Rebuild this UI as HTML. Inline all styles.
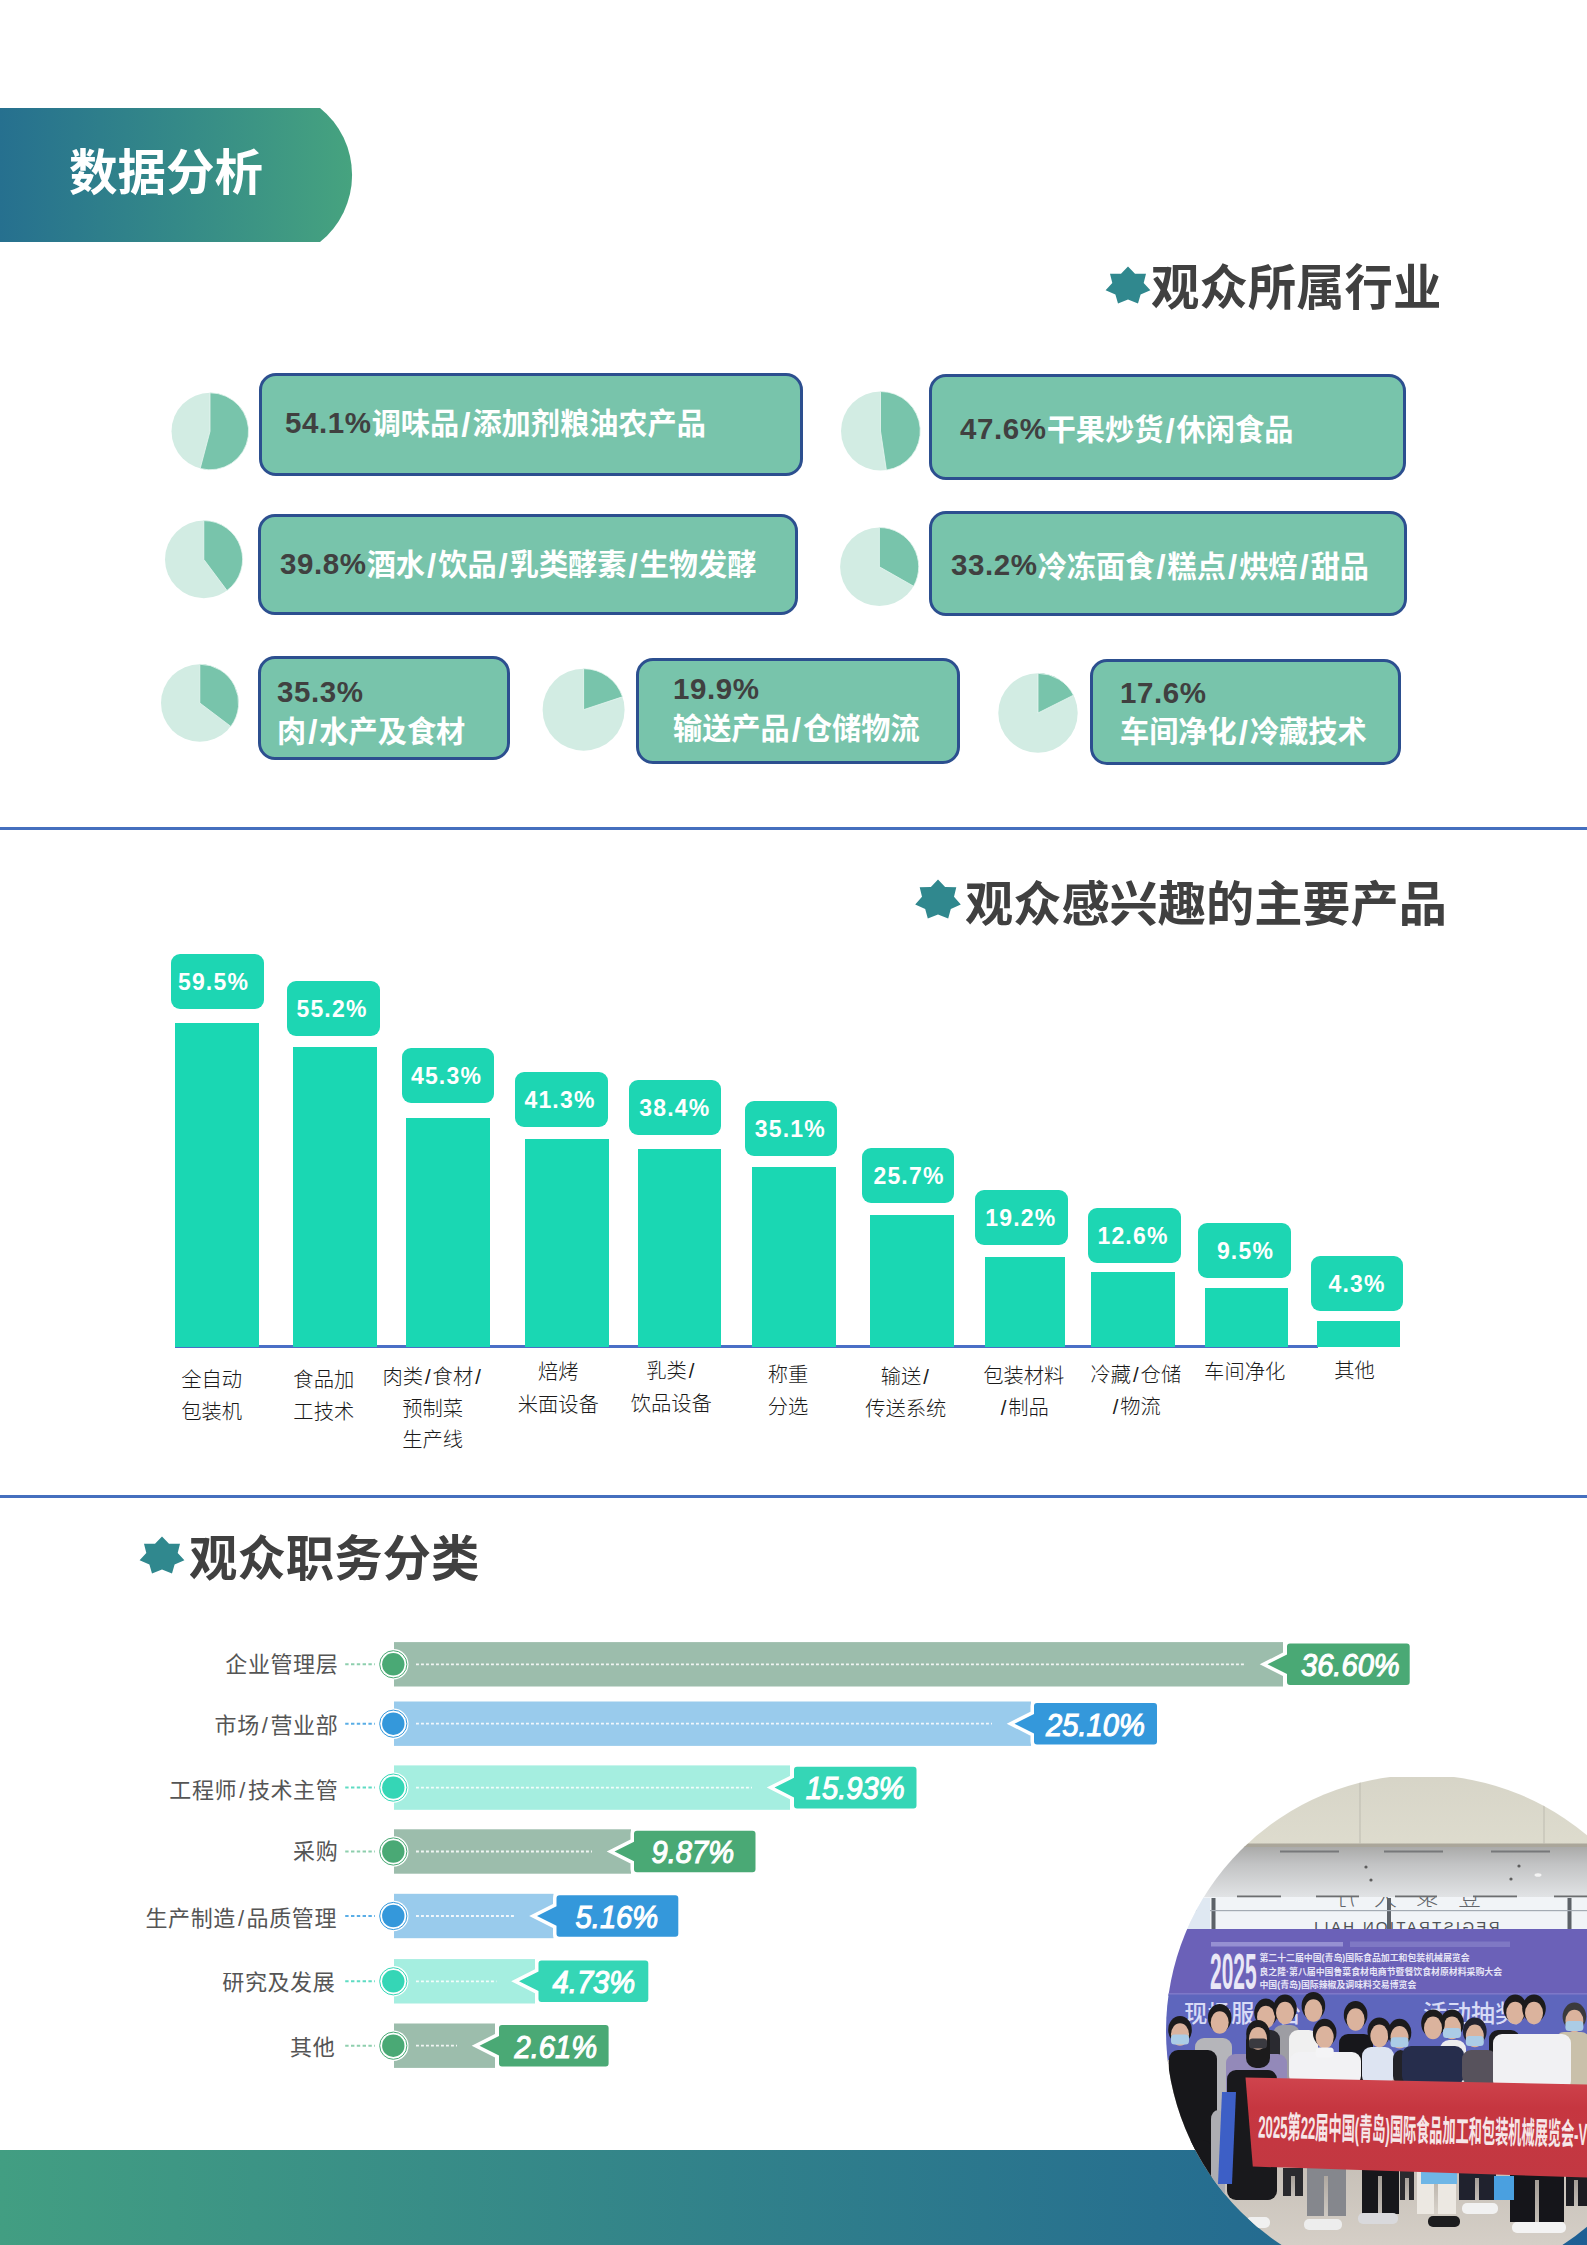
<!DOCTYPE html>
<html lang="zh-CN">
<head>
<meta charset="utf-8">
<title>数据分析</title>
<style>
html,body{margin:0;padding:0;background:#fff;}
body{width:1587px;height:2245px;position:relative;overflow:hidden;font-family:"Liberation Sans", "Noto Sans CJK SC", sans-serif;}
.a{position:absolute;white-space:nowrap;}
.ttl{font-weight:700;font-size:48.4px;line-height:60px;color:#404040;letter-spacing:0;}
.hdr{font-weight:700;font-size:48.5px;line-height:60px;color:#fff;}
.box{position:absolute;box-sizing:border-box;background:#78c4ab;border:3px solid #2c4f8f;border-radius:17px;}
.bt{position:absolute;white-space:nowrap;font-weight:700;font-size:29.2px;line-height:38px;color:#fff;}
.bt b{color:#404040;font-weight:700;font-size:29.5px;letter-spacing:0.6px;position:relative;top:-1.5px;}
.bt i{font-style:normal;padding:0 2px;font-size:33px;line-height:0;position:relative;top:1.5px;}
.bar{position:absolute;background:#1ad7b3;}
.lab{position:absolute;background:#1dd6b3;border-radius:9px;color:#fff;font-weight:700;font-size:23px;line-height:57px;text-align:center;letter-spacing:1.2px;}
.cat{position:absolute;white-space:nowrap;text-align:center;font-weight:300;font-size:20.3px;line-height:32px;color:#1a1a1a;transform:translateX(-50%);}
.cat i,.hl i{font-style:normal;padding:0 2px;}
.hl{position:absolute;white-space:nowrap;font-weight:400;font-size:22px;line-height:30px;color:#555;text-align:right;letter-spacing:0.6px;}
.hb{position:absolute;height:44px;}
.tg{position:absolute;white-space:nowrap;color:#fff;-webkit-text-stroke:1.1px #fff;font-style:italic;font-size:31px;line-height:41px;text-align:center;transform-origin:50% 50%;}
.line{position:absolute;left:0;width:1587px;height:3px;background:#456fbe;}
</style>
</head>
<body>
<svg class="a" style="left:0;top:108px" width="360" height="134" viewBox="0 0 360 134">
<defs><linearGradient id="hg" x1="0" y1="0" x2="1" y2="0"><stop offset="0" stop-color="#26708f"/><stop offset="0.5" stop-color="#348988"/><stop offset="1" stop-color="#46a37f"/></linearGradient></defs>
<path d="M0 0 H320 A86 86 0 0 1 320 134 H0 Z" fill="url(#hg)"/>
</svg>
<div class="a hdr" style="left:69px;top:142.8px">数据分析</div>
<div class="a" style="left:0;top:2150px;width:1587px;height:95px;background:linear-gradient(90deg,#429e82 0%,#1d5f94 100%)"></div>
<div class="line" style="top:827px"></div>
<div class="line" style="top:1495px"></div>
<svg class="a" style="left:1102.7px;top:260.7px" width="50" height="50" viewBox="0 0 50 50"><polygon points="25.0,5.5 32.0,12.7 43.0,12.8 40.7,22.0 47.4,29.3 37.6,33.5 35.0,42.6 25.0,38.6 15.0,42.6 12.4,33.5 2.6,29.3 9.3,22.0 7.0,12.8 18.0,12.7" fill="#30888e"/></svg>
<div class="a ttl" style="left:1151px;top:257.5px">观众所属行业</div>
<svg class="a" style="left:912.8px;top:875.2px" width="50" height="50" viewBox="0 0 50 50"><polygon points="25.0,4.5 32.1,12.1 43.3,12.2 41.0,21.8 47.8,29.6 37.8,33.9 35.2,43.5 25.0,39.4 14.8,43.5 12.2,33.9 2.2,29.6 9.0,21.8 6.7,12.2 17.9,12.1" fill="#30888e"/></svg>
<div class="a ttl" style="left:965px;top:873.8px;font-size:48.2px">观众感兴趣的主要产品</div>
<svg class="a" style="left:137.2px;top:1531.2px" width="50" height="50" viewBox="0 0 50 50"><polygon points="25.0,5.5 32.0,12.7 43.0,12.8 40.7,22.0 47.4,29.3 37.6,33.5 35.0,42.6 25.0,38.6 15.0,42.6 12.4,33.5 2.6,29.3 9.3,22.0 7.0,12.8 18.0,12.7" fill="#30888e"/></svg>
<div class="a ttl" style="left:189px;top:1528.8px">观众职务分类</div>
<svg class="a" style="left:0;top:340px" width="1587" height="460" viewBox="0 340 1587 460"><circle cx="210.0" cy="431.3" r="38.5" fill="#d2ece3"/><path d="M210.0 431.3 L210.0 392.8 A38.5 38.5 0 1 1 200.2 468.5 Z" fill="#78c4ab" stroke="#e8f6f1" stroke-width="0.8"/><circle cx="880.5" cy="431.0" r="39.5" fill="#d2ece3"/><path d="M880.5 431.0 L880.5 391.5 A39.5 39.5 0 0 1 886.4 470.1 Z" fill="#78c4ab" stroke="#e8f6f1" stroke-width="0.8"/><circle cx="203.8" cy="559.4" r="38.8" fill="#d2ece3"/><path d="M203.8 559.4 L203.8 520.6 A38.8 38.8 0 0 1 227.0 590.5 Z" fill="#78c4ab" stroke="#e8f6f1" stroke-width="0.8"/><circle cx="879.4" cy="566.8" r="39.3" fill="#d2ece3"/><path d="M879.4 566.8 L879.4 527.5 A39.3 39.3 0 0 1 913.6 586.2 Z" fill="#78c4ab" stroke="#e8f6f1" stroke-width="0.8"/><circle cx="199.8" cy="703.0" r="38.8" fill="#d2ece3"/><path d="M199.8 703.0 L199.8 664.2 A38.8 38.8 0 0 1 230.8 726.4 Z" fill="#78c4ab" stroke="#e8f6f1" stroke-width="0.8"/><circle cx="583.6" cy="709.7" r="41.0" fill="#d2ece3"/><path d="M583.6 709.7 L583.6 668.7 A41.0 41.0 0 0 1 622.5 696.8 Z" fill="#78c4ab" stroke="#e8f6f1" stroke-width="0.8"/><circle cx="1038.0" cy="713.0" r="39.7" fill="#d2ece3"/><path d="M1038.0 713.0 L1038.0 673.3 A39.7 39.7 0 0 1 1073.5 695.2 Z" fill="#78c4ab" stroke="#e8f6f1" stroke-width="0.8"/></svg>
<div class="box" style="left:259px;top:373px;width:544px;height:103px"></div>
<div class="bt" style="left:285px;top:405.0px"><b>54.1%</b>调味品<i>/</i>添加剂粮油农产品</div>
<div class="box" style="left:929px;top:374px;width:477px;height:106px"></div>
<div class="bt" style="left:960px;top:411.0px"><b>47.6%</b>干果炒货<i>/</i>休闲食品</div>
<div class="box" style="left:258px;top:514px;width:540px;height:101px"></div>
<div class="bt" style="left:280px;top:546.0px"><b>39.8%</b>酒水<i>/</i>饮品<i>/</i>乳类酵素<i>/</i>生物发酵</div>
<div class="box" style="left:929px;top:511px;width:478px;height:105px"></div>
<div class="bt" style="left:951px;top:547.5px"><b>33.2%</b>冷冻面食<i>/</i>糕点<i>/</i>烘焙<i>/</i>甜品</div>
<div class="box" style="left:258px;top:656px;width:252px;height:104px"></div>
<div class="bt" style="left:277px;top:674.0px"><b>35.3%</b></div>
<div class="bt" style="left:277px;top:712.5px">肉<i>/</i>水产及食材</div>
<div class="box" style="left:636px;top:658px;width:324px;height:106px"></div>
<div class="bt" style="left:673px;top:671.5px"><b>19.9%</b></div>
<div class="bt" style="left:673px;top:710.0px">输送产品<i>/</i>仓储物流</div>
<div class="box" style="left:1090px;top:659px;width:311px;height:106px"></div>
<div class="bt" style="left:1120px;top:675.0px"><b>17.6%</b></div>
<div class="bt" style="left:1120px;top:713.0px">车间净化<i>/</i>冷藏技术</div>
<div class="a" style="left:175px;top:1344.5px;width:1143px;height:3px;background:#4a6fc6"></div>
<div class="bar" style="left:175px;top:1023px;width:84px;height:324.4px"></div>
<div class="bar" style="left:293px;top:1047px;width:84px;height:300.4px"></div>
<div class="bar" style="left:406px;top:1118px;width:84px;height:229.4px"></div>
<div class="bar" style="left:525px;top:1139px;width:84px;height:208.4px"></div>
<div class="bar" style="left:638px;top:1149px;width:83px;height:198.4px"></div>
<div class="bar" style="left:752px;top:1167px;width:84px;height:180.4px"></div>
<div class="bar" style="left:870px;top:1215px;width:84px;height:132.4px"></div>
<div class="bar" style="left:985px;top:1257px;width:80px;height:90.4px"></div>
<div class="bar" style="left:1091px;top:1272px;width:84px;height:75.4px"></div>
<div class="bar" style="left:1205px;top:1288px;width:83px;height:59.4px"></div>
<div class="bar" style="left:1317px;top:1321px;width:83px;height:26.4px"></div>
<div class="lab" style="left:171px;top:954px;width:93px;height:55px"><span style="position:relative;left:-4px">59.5%</span></div>
<div class="lab" style="left:287px;top:981px;width:93px;height:55px"><span style="position:relative;left:-1.5px">55.2%</span></div>
<div class="lab" style="left:402px;top:1048px;width:92px;height:55px"><span style="position:relative;left:-1.5px">45.3%</span></div>
<div class="lab" style="left:515px;top:1072px;width:93px;height:55px"><span style="position:relative;left:-1.5px">41.3%</span></div>
<div class="lab" style="left:629px;top:1080px;width:92px;height:55px"><span style="position:relative;left:-0.2px">38.4%</span></div>
<div class="lab" style="left:745px;top:1101px;width:92px;height:55px"><span style="position:relative;left:-0.6px">35.1%</span></div>
<div class="lab" style="left:862px;top:1148px;width:92px;height:55px"><span style="position:relative;left:1px">25.7%</span></div>
<div class="lab" style="left:975px;top:1190px;width:93px;height:55px"><span style="position:relative;left:-0.6px">19.2%</span></div>
<div class="lab" style="left:1088px;top:1208px;width:93px;height:55px"><span style="position:relative;left:-1.5px">12.6%</span></div>
<div class="lab" style="left:1198px;top:1223px;width:93px;height:55px"><span style="position:relative;left:1px">9.5%</span></div>
<div class="lab" style="left:1311px;top:1256px;width:92px;height:55px"><span style="position:relative;left:0.1px">4.3%</span></div>
<div class="cat" style="left:211.7px;top:1364.2px">全自动</div>
<div class="cat" style="left:211.7px;top:1396.2px">包装机</div>
<div class="cat" style="left:323.8px;top:1364.2px">食品加</div>
<div class="cat" style="left:323.8px;top:1396.2px">工技术</div>
<div class="cat" style="left:432.6px;top:1361.2px">肉类<i>/</i>食材<i>/</i></div>
<div class="cat" style="left:432.6px;top:1393.2px">预制菜</div>
<div class="cat" style="left:432.6px;top:1424.2px">生产线</div>
<div class="cat" style="left:558.3px;top:1356.2px">焙烤</div>
<div class="cat" style="left:558.3px;top:1389.2px">米面设备</div>
<div class="cat" style="left:671.3px;top:1355.2px">乳类<i>/</i></div>
<div class="cat" style="left:671.3px;top:1388.2px">饮品设备</div>
<div class="cat" style="left:788.0px;top:1358.7px">称重</div>
<div class="cat" style="left:788.0px;top:1390.7px">分选</div>
<div class="cat" style="left:905.8px;top:1360.7px">输送<i>/</i></div>
<div class="cat" style="left:905.8px;top:1392.7px">传送系统</div>
<div class="cat" style="left:1023.8px;top:1359.7px">包装材料</div>
<div class="cat" style="left:1023.8px;top:1391.7px"><i>/</i>制品</div>
<div class="cat" style="left:1135.8px;top:1358.7px">冷藏<i>/</i>仓储</div>
<div class="cat" style="left:1135.8px;top:1390.7px"><i>/</i>物流</div>
<div class="cat" style="left:1244.7px;top:1356.2px">车间净化</div>
<div class="cat" style="left:1354.5px;top:1355.2px">其他</div>
<svg class="a" style="left:330px;top:1630px" width="1100" height="450" viewBox="330 1630 1100 450"><rect x="394" y="1642.1" width="889.0" height="44.4" fill="#9cbdac"/><line x1="416" y1="1664.3" x2="1245.0" y2="1664.3" stroke="#fff" stroke-opacity="0.85" stroke-width="1.8" stroke-dasharray="2.9 2.1"/><line x1="345.2" y1="1664.3" x2="375" y2="1664.3" stroke="#8ecfae" stroke-width="2" stroke-dasharray="3.4 2.4"/><circle cx="393.3" cy="1664.3" r="15.2" fill="#fff"/><circle cx="393.3" cy="1664.3" r="13.6" fill="none" stroke="#4aa975" stroke-width="1"/><circle cx="393.3" cy="1664.3" r="11.2" fill="#4aa975"/><path d="M1290.0 1643.5 H1406.7 Q1409.7 1643.5 1409.7 1646.5 V1682.1 Q1409.7 1685.1 1406.7 1685.1 H1290.0 Q1287.0 1685.1 1287.0 1682.1 V1674.1 L1267.5 1664.3 L1287.0 1654.5 V1646.5 Q1287.0 1643.5 1290.0 1643.5 Z" fill="#4aa975" stroke="#fff" stroke-width="7" stroke-linejoin="miter" paint-order="stroke"/><rect x="394" y="1701.5" width="637.0" height="44.4" fill="#99cbec"/><line x1="416" y1="1723.7" x2="992.0" y2="1723.7" stroke="#fff" stroke-opacity="0.85" stroke-width="1.8" stroke-dasharray="2.9 2.1"/><line x1="345.2" y1="1723.7" x2="375" y2="1723.7" stroke="#5aaee6" stroke-width="2" stroke-dasharray="3.4 2.4"/><circle cx="393.3" cy="1723.7" r="15.2" fill="#fff"/><circle cx="393.3" cy="1723.7" r="13.6" fill="none" stroke="#3498db" stroke-width="1"/><circle cx="393.3" cy="1723.7" r="11.2" fill="#3498db"/><path d="M1037.0 1702.9 H1154.0 Q1157.0 1702.9 1157.0 1705.9 V1741.5 Q1157.0 1744.5 1154.0 1744.5 H1037.0 Q1034.0 1744.5 1034.0 1741.5 V1733.5 L1014.5 1723.7 L1034.0 1713.9 V1705.9 Q1034.0 1702.9 1037.0 1702.9 Z" fill="#3498db" stroke="#fff" stroke-width="7" stroke-linejoin="miter" paint-order="stroke"/><rect x="394" y="1765.4" width="396.0" height="44.4" fill="#a5eee0"/><line x1="416" y1="1787.6" x2="752.0" y2="1787.6" stroke="#fff" stroke-opacity="0.85" stroke-width="1.8" stroke-dasharray="2.9 2.1"/><line x1="345.2" y1="1787.6" x2="375" y2="1787.6" stroke="#5fdcc3" stroke-width="2" stroke-dasharray="3.4 2.4"/><circle cx="393.3" cy="1787.6" r="15.2" fill="#fff"/><circle cx="393.3" cy="1787.6" r="13.6" fill="none" stroke="#35d6b6" stroke-width="1"/><circle cx="393.3" cy="1787.6" r="11.2" fill="#35d6b6"/><path d="M797.0 1766.8 H913.5 Q916.5 1766.8 916.5 1769.8 V1805.4 Q916.5 1808.4 913.5 1808.4 H797.0 Q794.0 1808.4 794.0 1805.4 V1797.4 L774.5 1787.6 L794.0 1777.8 V1769.8 Q794.0 1766.8 797.0 1766.8 Z" fill="#35d6b6" stroke="#fff" stroke-width="7" stroke-linejoin="miter" paint-order="stroke"/><rect x="394" y="1829.3" width="237.0" height="44.4" fill="#9cbdac"/><line x1="416" y1="1851.5" x2="592.0" y2="1851.5" stroke="#fff" stroke-opacity="0.85" stroke-width="1.8" stroke-dasharray="2.9 2.1"/><line x1="345.2" y1="1851.5" x2="375" y2="1851.5" stroke="#8ecfae" stroke-width="2" stroke-dasharray="3.4 2.4"/><circle cx="393.3" cy="1851.5" r="15.2" fill="#fff"/><circle cx="393.3" cy="1851.5" r="13.6" fill="none" stroke="#4aa975" stroke-width="1"/><circle cx="393.3" cy="1851.5" r="11.2" fill="#4aa975"/><path d="M637.0 1830.7 H752.5 Q755.5 1830.7 755.5 1833.7 V1869.3 Q755.5 1872.3 752.5 1872.3 H637.0 Q634.0 1872.3 634.0 1869.3 V1861.3 L614.5 1851.5 L634.0 1841.7 V1833.7 Q634.0 1830.7 637.0 1830.7 Z" fill="#4aa975" stroke="#fff" stroke-width="7" stroke-linejoin="miter" paint-order="stroke"/><rect x="394" y="1893.8" width="159.5" height="44.4" fill="#99cbec"/><line x1="416" y1="1916.0" x2="514.5" y2="1916.0" stroke="#fff" stroke-opacity="0.85" stroke-width="1.8" stroke-dasharray="2.9 2.1"/><line x1="345.2" y1="1916.0" x2="375" y2="1916.0" stroke="#5aaee6" stroke-width="2" stroke-dasharray="3.4 2.4"/><circle cx="393.3" cy="1916.0" r="15.2" fill="#fff"/><circle cx="393.3" cy="1916.0" r="13.6" fill="none" stroke="#3498db" stroke-width="1"/><circle cx="393.3" cy="1916.0" r="11.2" fill="#3498db"/><path d="M559.5 1895.2 H675.3 Q678.3 1895.2 678.3 1898.2 V1933.8 Q678.3 1936.8 675.3 1936.8 H559.5 Q556.5 1936.8 556.5 1933.8 V1925.8 L537.0 1916.0 L556.5 1906.2 V1898.2 Q556.5 1895.2 559.5 1895.2 Z" fill="#3498db" stroke="#fff" stroke-width="7" stroke-linejoin="miter" paint-order="stroke"/><rect x="394" y="1959.1" width="141.0" height="44.4" fill="#a5eee0"/><line x1="416" y1="1981.3" x2="496.5" y2="1981.3" stroke="#fff" stroke-opacity="0.85" stroke-width="1.8" stroke-dasharray="2.9 2.1"/><line x1="345.2" y1="1981.3" x2="375" y2="1981.3" stroke="#5fdcc3" stroke-width="2" stroke-dasharray="3.4 2.4"/><circle cx="393.3" cy="1981.3" r="15.2" fill="#fff"/><circle cx="393.3" cy="1981.3" r="13.6" fill="none" stroke="#35d6b6" stroke-width="1"/><circle cx="393.3" cy="1981.3" r="11.2" fill="#35d6b6"/><path d="M541.5 1960.5 H645.3 Q648.3 1960.5 648.3 1963.5 V1999.1 Q648.3 2002.1 645.3 2002.1 H541.5 Q538.5 2002.1 538.5 1999.1 V1991.1 L519.0 1981.3 L538.5 1971.5 V1963.5 Q538.5 1960.5 541.5 1960.5 Z" fill="#35d6b6" stroke="#fff" stroke-width="7" stroke-linejoin="miter" paint-order="stroke"/><rect x="394" y="2023.5" width="101.0" height="44.4" fill="#9cbdac"/><line x1="416" y1="2045.7" x2="457.0" y2="2045.7" stroke="#fff" stroke-opacity="0.85" stroke-width="1.8" stroke-dasharray="2.9 2.1"/><line x1="345.2" y1="2045.7" x2="375" y2="2045.7" stroke="#8ecfae" stroke-width="2" stroke-dasharray="3.4 2.4"/><circle cx="393.3" cy="2045.7" r="15.2" fill="#fff"/><circle cx="393.3" cy="2045.7" r="13.6" fill="none" stroke="#4aa975" stroke-width="1"/><circle cx="393.3" cy="2045.7" r="11.2" fill="#4aa975"/><path d="M502.0 2024.9 H605.6 Q608.6 2024.9 608.6 2027.9 V2063.5 Q608.6 2066.5 605.6 2066.5 H502.0 Q499.0 2066.5 499.0 2063.5 V2055.5 L479.5 2045.7 L499.0 2035.9 V2027.9 Q499.0 2024.9 502.0 2024.9 Z" fill="#4aa975" stroke="#fff" stroke-width="7" stroke-linejoin="miter" paint-order="stroke"/></svg>
<div class="hl" style="left:38.3px;width:300px;top:1649.8px">企业管理层</div>
<div class="tg" style="left:1278.5px;width:142.7px;top:1645.1px;transform:scaleX(0.94)">36.60%</div>
<div class="hl" style="left:38.3px;width:300px;top:1710.7px">市场<i>/</i>营业部</div>
<div class="tg" style="left:1024.0px;width:143.0px;top:1704.5px;transform:scaleX(0.94)">25.10%</div>
<div class="hl" style="left:38.3px;width:300px;top:1776.4px">工程师<i>/</i>技术主管</div>
<div class="tg" style="left:784.0px;width:142.5px;top:1768.4px;transform:scaleX(0.94)">15.93%</div>
<div class="hl" style="left:38.3px;width:300px;top:1836.5px">采购</div>
<div class="tg" style="left:621.7px;width:141.5px;top:1832.3px;transform:scaleX(0.94)">9.87%</div>
<div class="hl" style="left:37px;width:300px;top:1903.9px">生产制造<i>/</i>品质管理</div>
<div class="tg" style="left:545.5px;width:141.8px;top:1896.8px;transform:scaleX(0.94)">5.16%</div>
<div class="hl" style="left:35.3px;width:300px;top:1967.7px">研究及发展</div>
<div class="tg" style="left:528.5px;width:129.8px;top:1962.1px;transform:scaleX(0.94)">4.73%</div>
<div class="hl" style="left:35.3px;width:300px;top:2032.7px">其他</div>
<div class="tg" style="left:490.7px;width:129.6px;top:2026.5px;transform:scaleX(0.94)">2.61%</div>
<svg class="a" style="left:1150px;top:1770px" width="437" height="475" viewBox="1150 1770 437 475" font-family="Liberation Sans, Noto Sans CJK SC, sans-serif"><defs><clipPath id="pc"><circle cx="1422" cy="2031" r="256"/></clipPath><clipPath id="pt"><rect x="1150" y="1777" width="437" height="480"/></clipPath><clipPath id="pw"><rect x="1150" y="1897" width="437" height="33"/></clipPath><linearGradient id="cg" x1="0" y1="0" x2="0" y2="1"><stop offset="0" stop-color="#d6d4c7"/><stop offset="1" stop-color="#dedcce"/></linearGradient><linearGradient id="lg" x1="0" y1="0" x2="0" y2="1"><stop offset="0" stop-color="#a9a9a8"/><stop offset="0.35" stop-color="#c2c3c4"/><stop offset="1" stop-color="#e2e4e6"/></linearGradient><linearGradient id="fg" x1="0" y1="0" x2="0" y2="1"><stop offset="0" stop-color="#b4aca3"/><stop offset="1" stop-color="#d6d0c8"/></linearGradient><linearGradient id="rg" x1="0" y1="0" x2="0" y2="1"><stop offset="0" stop-color="#cf444d"/><stop offset="0.3" stop-color="#c63640"/><stop offset="1" stop-color="#c23842"/></linearGradient></defs><g clip-path="url(#pt)"><g clip-path="url(#pc)"><rect x="1150" y="1770" width="437" height="78" fill="url(#cg)"/><rect x="1150" y="1846" width="437" height="52" fill="url(#lg)"/><rect x="1150" y="1843.5" width="437" height="3.5" fill="#aaa69a"/><line x1="1360" y1="1777" x2="1360" y2="1844" stroke="#bdbbb0" stroke-width="1"/><line x1="1544" y1="1800" x2="1544" y2="1844" stroke="#bdbbb0" stroke-width="1"/><rect x="1280" y="1850.5" width="59" height="2" fill="#77787a"/><rect x="1384" y="1850.5" width="59" height="2" fill="#77787a"/><rect x="1491" y="1850.5" width="59" height="2" fill="#77787a"/><circle cx="1366" cy="1867" r="1.6" fill="#5d5d5d"/><circle cx="1371" cy="1880" r="1.6" fill="#5d5d5d"/><circle cx="1519" cy="1866" r="1.6" fill="#5d5d5d"/><circle cx="1511" cy="1879" r="1.6" fill="#5d5d5d"/><ellipse cx="1538" cy="1875" rx="3.5" ry="1.8" fill="#f4f4f4"/><rect x="1150" y="1897" width="437" height="35" fill="#f1f4f7"/><rect x="1237" y="1895.5" width="44" height="1.8" fill="#6c6e70"/><rect x="1316" y="1895.5" width="43" height="1.8" fill="#6c6e70"/><rect x="1395" y="1895.5" width="42" height="1.8" fill="#6c6e70"/><rect x="1473" y="1895.5" width="44" height="1.8" fill="#6c6e70"/><rect x="1554" y="1895.5" width="33" height="1.8" fill="#6c6e70"/><rect x="1211.5" y="1898" width="4" height="34" fill="#5d6268"/><rect x="1387" y="1898" width="4" height="34" fill="#5d6268"/><rect x="1567.5" y="1898" width="4" height="34" fill="#5d6268"/><rect x="1150" y="1910" width="437" height="1.2" fill="#a4abb3"/><rect x="1150" y="1898" width="60" height="34" fill="#dfe8f2"/><g clip-path="url(#pw)"><g transform="translate(1481,1904.5) scale(-1,1)"><text x="0" y="0" font-size="23" fill="#63666b" letter-spacing="19" font-weight="300">登录大厅</text></g><g transform="translate(1499.5,1932) scale(-1,1)"><text x="0" y="0" font-size="15" fill="#4e5156" letter-spacing="2.3" font-weight="400">REGISTRATION HALL</text></g></g><rect x="1150" y="1929" width="437" height="67" fill="#6b61b8"/><rect x="1150" y="1994" width="437" height="70" fill="#5e66bd"/><rect x="1150" y="1993" width="437" height="1.6" fill="#7d78c8"/><text transform="translate(1210,1989) scale(0.42,1)" font-size="50" font-weight="700" fill="#e9e7f6">2025</text><text x="1259.5" y="1961" font-size="8.9" font-weight="700" fill="#e6e4f5">第二十二届中国(青岛)国际食品加工和包装机械展览会</text><text x="1259.5" y="1974.5" font-size="8.9" font-weight="700" fill="#e6e4f5">良之隆·第八届中国鲁菜食材电商节暨餐饮食材原材料采购大会</text><text x="1259.5" y="1988" font-size="8.9" font-weight="700" fill="#e6e4f5">中国(青岛)国际辣椒及调味料交易博览会</text><rect x="1211" y="1942" width="132" height="4.5" fill="#9690d2"/><rect x="1350" y="1941.5" width="160" height="5.5" fill="#7f78c4"/><text x="1184" y="2022" font-size="23.5" font-weight="500" fill="#d8dbf6">现场服务台</text><text x="1423" y="2022" font-size="24" font-weight="500" fill="#d8dbf6">活动抽奖</text><rect x="1150" y="2060" width="437" height="190" fill="url(#fg)"/><rect x="1273" y="2025" width="27" height="60" rx="9" fill="#9d9da3"/><rect x="1254" y="2030" width="26" height="55" rx="9" fill="#2a2a30"/><rect x="1289" y="2030" width="29" height="55" rx="9" fill="#f0f0f0"/><rect x="1339" y="2034" width="34" height="51" rx="9" fill="#17171b"/><rect x="1440" y="2040" width="26" height="45" rx="9" fill="#ececee"/><rect x="1489" y="2030" width="31" height="55" rx="9" fill="#1b1b1f"/><rect x="1555" y="2032" width="35" height="58" rx="9" fill="#c9c0aa"/><rect x="1195" y="2038" width="37" height="132" rx="9" fill="#b5b5ba"/><rect x="1169" y="2050" width="48" height="100" rx="9" fill="#17171a"/><rect x="1184" y="2140" width="28" height="75" rx="9" fill="#17171a"/><rect x="1211" y="2110" width="14" height="105" rx="9" fill="#adadb2"/><rect x="1226" y="2054" width="61" height="46" rx="9" fill="#9389b9"/><rect x="1227" y="2070" width="50" height="130" rx="9" fill="#19191c"/><rect x="1290" y="2052" width="71" height="33" rx="9" fill="#f2f2f4"/><rect x="1362" y="2047" width="32" height="38" rx="9" fill="#dde4f2"/><rect x="1393" y="2050" width="15" height="35" rx="9" fill="#222228"/><rect x="1402" y="2046" width="62" height="39" rx="9" fill="#262d4c"/><rect x="1462" y="2050" width="35" height="35" rx="9" fill="#57525c"/><rect x="1493" y="2034" width="78" height="56" rx="9" fill="#f1f1f3"/><polygon points="1222,2092 1236,2092 1232,2184 1218,2184" fill="#3d5fc6"/><ellipse cx="1266" cy="2012.6" rx="11.8" ry="14" fill="#1c1b1c"/><ellipse cx="1266" cy="2017.1" rx="9" ry="11.3" fill="#dbb39d"/><ellipse cx="1285" cy="2008.6" rx="11.8" ry="14" fill="#1c1b1c"/><ellipse cx="1285" cy="2013.1" rx="9" ry="11.3" fill="#dbb39d"/><ellipse cx="1313.4" cy="2006" rx="11.8" ry="14" fill="#1c1b1c"/><ellipse cx="1313.4" cy="2010.5" rx="9" ry="11.3" fill="#dbb39d"/><ellipse cx="1355.6" cy="2015" rx="11.8" ry="14" fill="#1c1b1c"/><ellipse cx="1355.6" cy="2019.5" rx="9" ry="11.3" fill="#dbb39d"/><ellipse cx="1452" cy="2023.4" rx="11.8" ry="14" fill="#1c1b1c"/><ellipse cx="1452" cy="2027.9" rx="9" ry="11.3" fill="#dbb39d"/><ellipse cx="1515.2" cy="2008.6" rx="11.8" ry="14" fill="#1c1b1c"/><ellipse cx="1515.2" cy="2013.1" rx="9" ry="11.3" fill="#dbb39d"/><ellipse cx="1574.4" cy="2016.6" rx="11.8" ry="14" fill="#3b3a3c"/><ellipse cx="1574.4" cy="2021.1" rx="9" ry="11.3" fill="#dbb39d"/><ellipse cx="1180" cy="2030" rx="11.8" ry="14" fill="#1c1b1c"/><ellipse cx="1180" cy="2034.5" rx="9" ry="11.3" fill="#dbb39d"/><ellipse cx="1219.7" cy="2018" rx="11.8" ry="14" fill="#1c1b1c"/><ellipse cx="1219.7" cy="2022.5" rx="9" ry="11.3" fill="#dbb39d"/><ellipse cx="1258" cy="2034" rx="11.8" ry="14" fill="#1c1b1c"/><ellipse cx="1258" cy="2038.5" rx="9" ry="11.3" fill="#dbb39d"/><ellipse cx="1324.7" cy="2032.8" rx="11.8" ry="14" fill="#1c1b1c"/><ellipse cx="1324.7" cy="2037.3" rx="9" ry="11.3" fill="#dbb39d"/><ellipse cx="1379.3" cy="2031.4" rx="11.8" ry="14" fill="#1c1b1c"/><ellipse cx="1379.3" cy="2035.9" rx="9" ry="11.3" fill="#dbb39d"/><ellipse cx="1399.5" cy="2032.8" rx="11.8" ry="14" fill="#1c1b1c"/><ellipse cx="1399.5" cy="2037.3" rx="9" ry="11.3" fill="#dbb39d"/><ellipse cx="1433" cy="2023.4" rx="11.8" ry="14" fill="#1c1b1c"/><ellipse cx="1433" cy="2027.9" rx="9" ry="11.3" fill="#dbb39d"/><ellipse cx="1474.8" cy="2031.4" rx="11.8" ry="14" fill="#23232e"/><ellipse cx="1474.8" cy="2035.9" rx="9" ry="11.3" fill="#dbb39d"/><ellipse cx="1534" cy="2008.6" rx="11.8" ry="14" fill="#1c1b1c"/><ellipse cx="1534" cy="2013.1" rx="9" ry="11.3" fill="#dbb39d"/><rect x="1246" y="2030" width="24" height="38" rx="10" fill="#1c1b1c"/><ellipse cx="1258" cy="2038.5" rx="9" ry="11.3" fill="#dbb39d"/><rect x="1171" y="2034.5" width="18" height="10" rx="3.5" fill="#abcce6"/><rect x="1249" y="2038.5" width="18" height="10" rx="3.5" fill="#3a3a40"/><rect x="1390.5" y="2037.3" width="18" height="10" rx="3.5" fill="#abcce6"/><rect x="1443" y="2027.9" width="18" height="10" rx="3.5" fill="#abcce6"/><rect x="1465.8" y="2035.9" width="18" height="10" rx="3.5" fill="#abcce6"/><rect x="1565.4" y="2021.1" width="18" height="10" rx="3.5" fill="#abcce6"/><rect x="1315.7" y="2047.5" width="18" height="10" rx="3.5" fill="#f4f4f6"/><rect x="1307" y="2168" width="39" height="48" fill="#85878d"/><rect x="1324" y="2176" width="4" height="40" fill="url(#fg)" opacity="0.9"/><rect x="1362" y="2168" width="37" height="46" fill="#17171b"/><rect x="1378" y="2176" width="4" height="38" fill="url(#fg)" opacity="0.9"/><rect x="1417" y="2170" width="39" height="44" fill="#ece8e2"/><rect x="1434" y="2178" width="4" height="36" fill="url(#fg)" opacity="0.9"/><rect x="1459" y="2170" width="37" height="30" fill="#20222e"/><rect x="1475" y="2178" width="4" height="22" fill="url(#fg)" opacity="0.9"/><rect x="1510" y="2172" width="54" height="50" fill="#15151a"/><rect x="1535" y="2180" width="4" height="42" fill="url(#fg)" opacity="0.9"/><rect x="1283" y="2168" width="20" height="28" fill="#2a2a2e"/><rect x="1291" y="2176" width="4" height="20" fill="url(#fg)" opacity="0.9"/><rect x="1400" y="2170" width="14" height="30" fill="#2a2a2e"/><rect x="1405" y="2178" width="4" height="22" fill="url(#fg)" opacity="0.9"/><rect x="1566" y="2172" width="21" height="34" fill="#1d1d22"/><rect x="1574" y="2180" width="4" height="26" fill="url(#fg)" opacity="0.9"/><rect x="1246" y="2217" width="24" height="11" rx="5" fill="#f0f0f0"/><rect x="1304" y="2219" width="38" height="11" rx="5" fill="#ededed"/><rect x="1358" y="2213" width="40" height="11" rx="5" fill="#d9d9dc"/><rect x="1428" y="2216" width="32" height="11" rx="5" fill="#1c1c1e"/><rect x="1462" y="2203" width="36" height="11" rx="5" fill="#f1f1f1"/><rect x="1512" y="2222" width="54" height="11" rx="5" fill="#f3f3f3"/><rect x="1421" y="2172" width="36" height="12" fill="#6fb6e6"/><rect x="1494" y="2176" width="20" height="24" fill="#4aa0e0"/><polygon points="1245.5,2077.5 1587,2084.5 1587,2177.5 1252.8,2166.5" fill="url(#rg)"/><text transform="translate(1258,2137.5) rotate(1.35) scale(0.425,1)" font-size="31" font-weight="700" fill="#f6e6e8">2025第22届中国(青岛)国际食品加工和包装机械展览会-VIP</text></g></g></svg>
</body>
</html>
